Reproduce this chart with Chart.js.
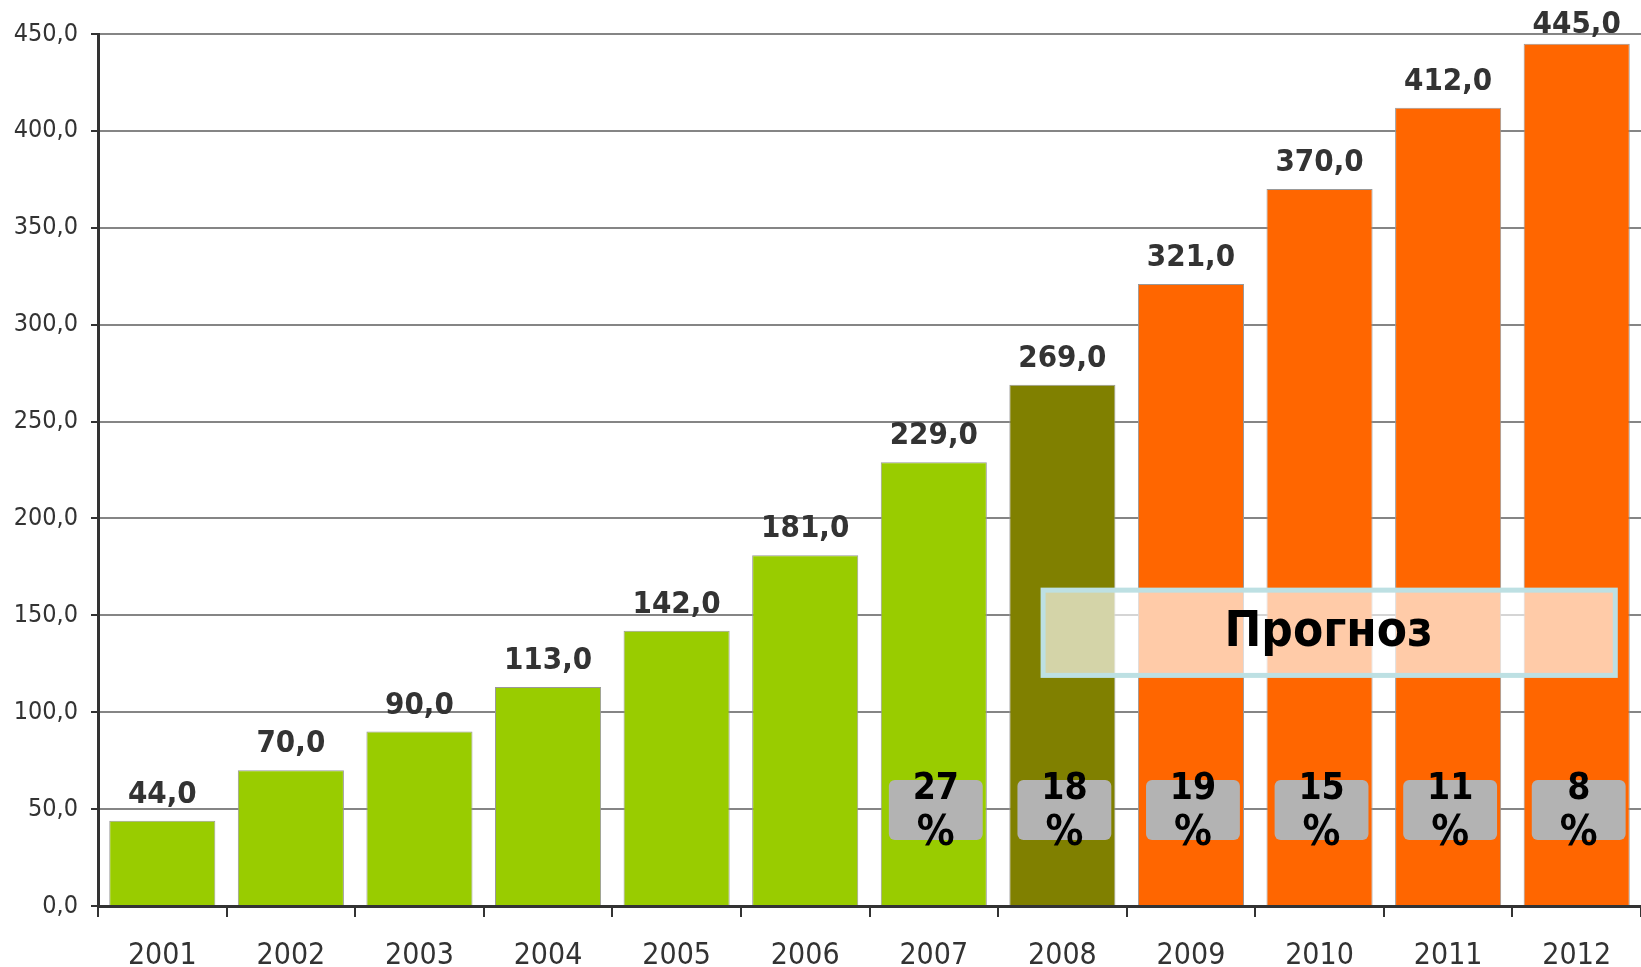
<!DOCTYPE html>
<html>
<head>
<meta charset="utf-8">
<script src="https://cdn.jsdelivr.net/npm/chart.js@4.4.1/dist/chart.umd.min.js"></script>
<style>
  html, body { margin: 0; padding: 0; background: #fff; }
  #wrap { width: 1641px; height: 967px; position: relative; }
</style>
</head>
<body>
<div id="wrap"><canvas id="c"></canvas></div>
<script>
// ---- data ----
const years = ['2001','2002','2003','2004','2005','2006','2007','2008','2009','2010','2011','2012'];
const values = [44, 70, 90, 113, 142, 181, 229, 269, 321, 370, 412, 445];
const growthPct = [null, null, null, null, null, null, 27, 18, 19, 15, 11, 8];
const yTickValues = [0, 50, 100, 150, 200, 250, 300, 350, 400, 450];
const forecastLabel = 'Прогноз';

// ---- styles ----
const barColors = ['#99cc00','#99cc00','#99cc00','#99cc00','#99cc00','#99cc00','#99cc00',
                   '#808000','#ff6600','#ff6600','#ff6600','#ff6600'];
const FONT = '"DejaVu Sans Condensed", "DejaVu Sans", Verdana, sans-serif';
const fmt = v => v.toFixed(1).replace('.', ',');

const overlayPlugin = {
  id: 'overlay',
  afterDatasetsDraw(chart) {
    const ctx = chart.ctx;
    const xs = chart.scales.x, ys = chart.scales.y;
    const area = chart.chartArea;
    const catW = xs.getPixelForValue(1) - xs.getPixelForValue(0);

    // forecast box
    const fx1 = xs.getPixelForValue(6.85), fx2 = xs.getPixelForValue(11.3);
    const fy1 = ys.getPixelForValue(163), fy2 = ys.getPixelForValue(119);
    ctx.save();
    ctx.fillStyle = 'rgba(255,255,255,0.66)';
    ctx.fillRect(fx1, fy1, fx2 - fx1, fy2 - fy1);
    ctx.strokeStyle = '#bde0e3';
    ctx.lineWidth = 5;
    ctx.strokeRect(fx1, fy1, fx2 - fx1, fy2 - fy1);
    ctx.fillStyle = '#000';
    ctx.font = 'bold 49px ' + FONT;
    ctx.textAlign = 'center';
    ctx.textBaseline = 'middle';
    ctx.fillText(forecastLabel, xs.getPixelForValue(9.07), (fy1 + fy2) / 2);
    ctx.restore();

    // growth boxes
    growthPct.forEach((g, i) => {
      if (g === null) return;
      const cx = xs.getPixelForValue(i) + 2;
      const w = catW * 0.73;
      const top = ys.getPixelForValue(65), bot = ys.getPixelForValue(34);
      ctx.save();
      ctx.fillStyle = '#b3b3b3';
      ctx.beginPath();
      ctx.roundRect(cx - w / 2, top, w, bot - top, 6);
      ctx.fill();
      ctx.fillStyle = '#000';
      ctx.textAlign = 'center';
      ctx.textBaseline = 'middle';
      const mid = (top + bot) / 2;
      ctx.font = 'bold 37px ' + FONT;
      ctx.fillText(String(g), cx, mid - 21);
      ctx.font = 'bold 42px ' + FONT;
      ctx.fillText('%', cx, mid + 24);
      ctx.restore();
    });

    // value labels
    const meta = chart.getDatasetMeta(0);
    ctx.save();
    ctx.fillStyle = '#333333';
    ctx.font = 'bold 31px ' + FONT;
    ctx.textAlign = 'center';
    ctx.textBaseline = 'alphabetic';
    meta.data.forEach((bar, i) => {
      const y = Math.max(bar.y - 18, area.top - 1);
      ctx.fillText(fmt(values[i]), bar.x, y);
    });
    ctx.restore();
  }
};

new Chart(document.getElementById('c'), {
  type: 'bar',
  data: {
    labels: years,
    datasets: [{
      data: values,
      backgroundColor: barColors,
      borderColor: '#999999',
      borderWidth: 1,
      barPercentage: 0.825,
      categoryPercentage: 1.0
    }]
  },
  options: {
    responsive: true,
    maintainAspectRatio: false,
    animation: false,
    layout: { padding: { top: 34, left: 0, right: 0, bottom: 0 } },
    plugins: { legend: { display: false }, tooltip: { enabled: false } },
    scales: {
      x: {
        offset: true,
        grid: { display: true, drawOnChartArea: false, drawTicks: true, offset: true,
                tickLength: 11, color: '#333333', lineWidth: 2 },
        border: { display: true, color: '#333333', width: 3 },
        ticks: { color: '#333333', font: { family: FONT, size: 30 }, padding: 21, maxRotation: 0 },
        afterFit(s) { s.height = 61; }
      },
      y: {
        min: 0, max: 450,
        afterBuildTicks(s) { s.ticks = yTickValues.map(v => ({ value: v })); },
        grid: { color: '#858585', lineWidth: 2, tickLength: 7, tickColor: '#333333', drawTicks: true },
        border: { display: true, color: '#333333', width: 3 },
        ticks: { color: '#333333', font: { family: FONT, size: 25 }, padding: 13,
                 callback: v => fmt(v) },
        afterFit(s) { s.width = 98; }
      }
    }
  },
  plugins: [overlayPlugin]
});
</script>
</body>
</html>
